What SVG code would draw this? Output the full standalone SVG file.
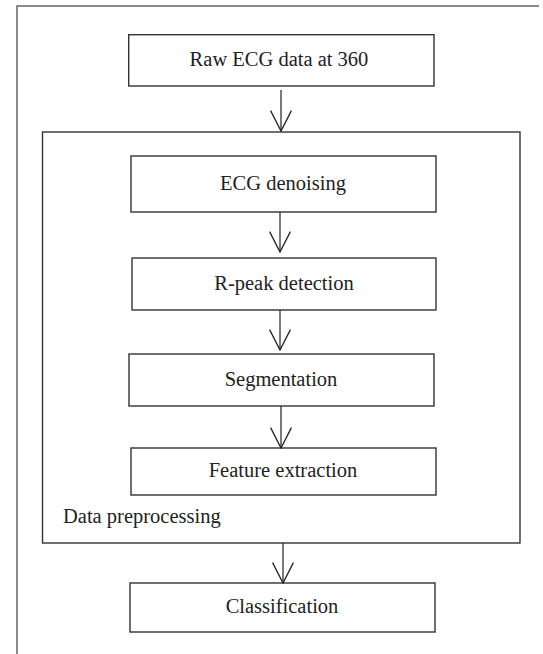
<svg xmlns="http://www.w3.org/2000/svg" width="543" height="654" viewBox="0 0 543 654">
<style>
.box{fill:#fff;stroke:#333;stroke-width:1.4}
.frame{fill:none;stroke:#666;stroke-width:1.5}
.lbl{font-family:"Liberation Serif","Times New Roman",serif;font-size:20.5px;fill:#222}
.c{text-anchor:middle}
.con{stroke:#222;stroke-width:1.2;fill:none}
</style>
<defs>
<marker id="v" markerWidth="22" markerHeight="22" refX="19" refY="10" orient="auto" markerUnits="userSpaceOnUse" viewBox="0 0 20 20">
<path d="M0.5,0.5 L19,10 L0.5,19.5" fill="none" stroke="#222" stroke-width="1.2"/>
</marker>
</defs>
<rect width="543" height="654" fill="#fff"/>
<path class="frame" d="M17,660 V6 H539"/>
<g id="preprocessing">
<rect class="box" x="42.5" y="132" width="477.5" height="411"/>
<text class="lbl" x="63" y="522.7">Data preprocessing</text>
</g>
<g id="raw"><rect class="box" x="128.7" y="34.7" width="305.3" height="51.3"/><text class="lbl c" x="279" y="65.5">Raw ECG data at 360</text></g>
<g id="denoise"><rect class="box" x="131" y="156" width="305" height="56"/><text class="lbl c" x="283" y="190">ECG denoising</text></g>
<g id="rpeak"><rect class="box" x="132" y="258" width="304" height="52"/><text class="lbl c" x="284" y="290">R-peak detection</text></g>
<g id="seg"><rect class="box" x="129" y="354" width="305" height="52"/><text class="lbl c" x="281" y="386">Segmentation</text></g>
<g id="feat"><rect class="box" x="131" y="448" width="305" height="47"/><text class="lbl c" x="283" y="477">Feature extraction</text></g>
<g id="cls"><rect class="box" x="130" y="583" width="305" height="49"/><text class="lbl c" x="282" y="613">Classification</text></g>
<g id="connectors">
<path class="con" d="M281,90 V131" marker-end="url(#v)"/>
<path class="con" d="M280,212 V252" marker-end="url(#v)"/>
<path class="con" d="M280,310 V350" marker-end="url(#v)"/>
<path class="con" d="M281,406 V448" marker-end="url(#v)"/>
<path class="con" d="M283,543 V583" marker-end="url(#v)"/>
</g>
</svg>
